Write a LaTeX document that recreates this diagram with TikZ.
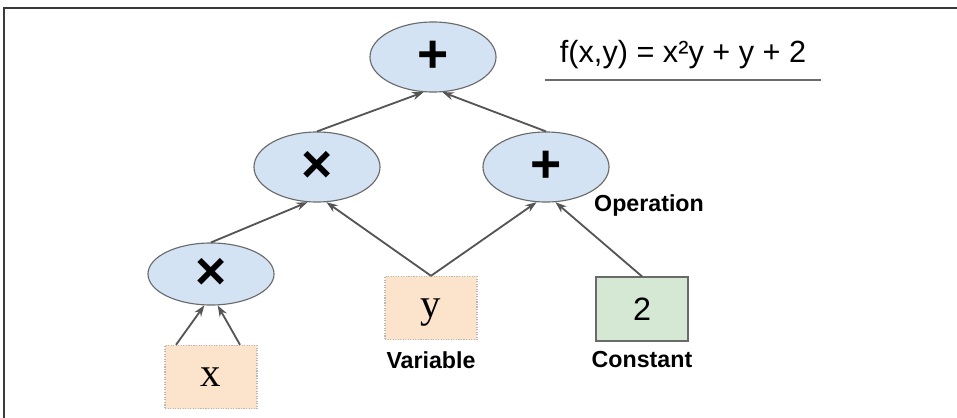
\documentclass[tikz,border=0pt]{standalone}
\usepackage{fontspec}
\setmainfont{Liberation Sans}
\newfontfamily\varfont{Liberation Serif}
\definecolor{opBlue}{HTML}{D3E3F4}
\definecolor{opLine}{HTML}{6A6A6A}
\definecolor{varPeach}{HTML}{FCE4CC}
\definecolor{cstGreen}{HTML}{D5E8D4}
\definecolor{edgeGray}{HTML}{555555}
\definecolor{frameGray}{HTML}{3A3A3A}
\usetikzlibrary{arrows.meta, shapes.geometric}

\begin{document}
\begin{tikzpicture}[x=0.025cm, y=-0.025cm,
  op/.style={ellipse, draw=opLine, thick, fill=opBlue, inner sep=0pt,
             minimum width=3.15cm, minimum height=1.75cm,
             font=\fontsize{38}{38}\selectfont\bfseries},
  var/.style={draw=gray!55, densely dotted, thick, fill=varPeach,
             minimum width=2.3cm, minimum height=1.58cm, text depth=0pt,
             font=\varfont\fontsize{29}{29}\selectfont},
  cst/.style={draw=opLine, thick, fill=cstGreen,
             minimum width=2.3cm, minimum height=1.6cm,
             font=\fontsize{23}{23}\selectfont},
  lbl/.style={font=\fontsize{16.5}{19}\selectfont\bfseries},
  edge/.style={draw=edgeGray, line width=1.3pt,
             -{Stealth[length=2.8mm, width=2mm]}}]

  \useasboundingbox (0,0) rectangle (957,418);
  \draw[frameGray, line width=1.2pt] (4,418) -- (4,8) -- (957,8);

  \node[op] (root)  at (433,57)  {+};
  \node[op] (mulA)  at (317,167) {×};
  \node[op] (addA)  at (546,167) {+};
  \node[op, minimum height=1.55cm] (mulB) at (211,274) {×};
  \node[var] (x)    at (211,377) {x};
  \node[var] (y)    at (431,308) {y};
  \node[cst] (two)  at (642,309) {2};

  \node[lbl] (opLbl)  at (649,206) {Operation};
  \node[lbl] (varLbl) at (431,360) {Variable};
  \node[lbl] (cstLbl) at (642,360) {Constant};

  \node[font=\fontsize{21.8}{26}\selectfont] (fxy) at (683,55) {f(x,y) = x²y + y + 2};
  \draw[opLine, line width=1pt] (545,80) -- (821,80);

  \draw[edge] (mulA.north) -- (root.255);
  \draw[edge] (addA.north) -- (root.285);
  \draw[edge] (mulB.north) -- (mulA.255);
  \draw[edge] (y.north) -- (mulA.285);
  \draw[edge] (y.north) -- (addA.255);
  \draw[edge] (two.north) -- (addA.285);
  \draw[edge] ([xshift=-0.875cm]x.north) -- (mulB.258);
  \draw[edge] ([xshift=0.725cm]x.north) -- (mulB.282);
\end{tikzpicture}
\end{document}
